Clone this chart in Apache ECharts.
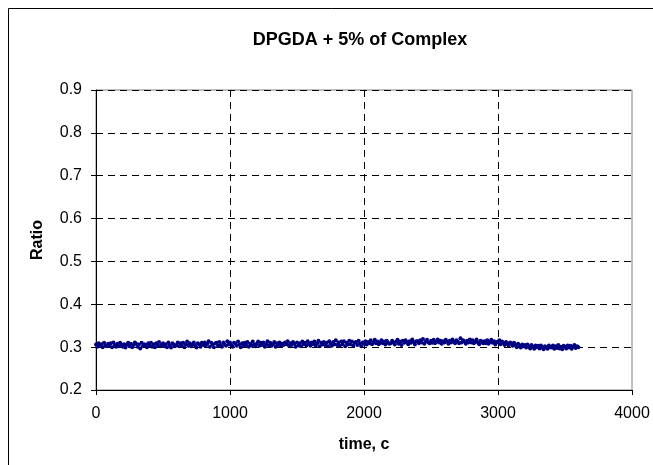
<!DOCTYPE html>
<html>
<head>
<meta charset="utf-8">
<script src="https://cdn.jsdelivr.net/npm/echarts@6/dist/echarts.min.js"></script>
<style>
html,body{margin:0;padding:0;background:#fff;}
#chart{width:653px;height:465px;}
</style>
</head>
<body>
<div id="chart"></div>
<script>
const chartTitle = "DPGDA + 5% of Complex";
const xAxisTitle = "time, c";
const yAxisTitle = "Ratio";
const xTicks = [0, 1000, 2000, 3000, 4000];
const yTicks = [0.2, 0.3, 0.4, 0.5, 0.6, 0.7, 0.8, 0.9];
const timeStart = 0;
const timeStep = 10;
const ratio = [
0.306,0.301,0.309,0.303,0.307,0.300,0.310,0.304,0.302,0.308,
0.303,0.309,0.300,0.311,0.305,0.301,0.308,0.302,0.310,0.306,
0.301,0.307,0.299,0.306,0.310,0.302,0.308,0.300,0.305,0.311,
0.308,0.301,0.306,0.297,0.310,0.302,0.307,0.305,0.300,0.309,
0.304,0.310,0.301,0.307,0.300,0.309,0.305,0.312,0.302,0.307,
0.309,0.302,0.307,0.300,0.311,0.304,0.299,0.309,0.306,0.302,
0.305,0.311,0.302,0.309,0.304,0.310,0.300,0.307,0.313,0.303,
0.309,0.302,0.306,0.311,0.304,0.299,0.309,0.306,0.301,0.310,
0.305,0.311,0.303,0.308,0.314,0.301,0.310,0.306,0.300,0.309,
0.310,0.303,0.312,0.305,0.301,0.311,0.307,0.303,0.314,0.306,
0.311,0.305,0.301,0.310,0.308,0.303,0.313,0.306,0.300,0.309,
0.303,0.310,0.305,0.312,0.301,0.308,0.304,0.313,0.306,0.302,
0.308,0.313,0.303,0.310,0.305,0.311,0.301,0.307,0.314,0.304,
0.310,0.303,0.307,0.312,0.301,0.309,0.305,0.311,0.303,0.308,
0.305,0.311,0.307,0.314,0.303,0.309,0.305,0.312,0.308,0.301,
0.311,0.304,0.309,0.302,0.313,0.307,0.310,0.304,0.314,0.308,
0.303,0.311,0.307,0.313,0.304,0.309,0.315,0.302,0.310,0.306,
0.312,0.305,0.310,0.302,0.314,0.308,0.303,0.312,0.307,0.316,
0.305,0.311,0.303,0.313,0.307,0.314,0.302,0.310,0.306,0.315,
0.307,0.313,0.303,0.310,0.312,0.305,0.315,0.308,0.302,0.311,
0.308,0.314,0.306,0.312,0.309,0.316,0.307,0.311,0.317,0.309,
0.313,0.307,0.311,0.316,0.309,0.313,0.306,0.315,0.310,0.308,
0.309,0.315,0.311,0.306,0.313,0.317,0.308,0.313,0.305,0.315,
0.310,0.316,0.312,0.307,0.314,0.310,0.318,0.312,0.306,0.314,
0.314,0.309,0.316,0.311,0.319,0.308,0.313,0.317,0.311,0.309,
0.315,0.310,0.317,0.309,0.313,0.318,0.311,0.315,0.308,0.314,
0.311,0.317,0.313,0.308,0.315,0.311,0.318,0.313,0.309,0.316,
0.313,0.309,0.321,0.311,0.316,0.313,0.308,0.315,0.311,0.318,
0.311,0.316,0.309,0.313,0.318,0.311,0.307,0.315,0.313,0.309,
0.314,0.309,0.316,0.308,0.312,0.317,0.310,0.314,0.306,0.312,
0.312,0.316,0.307,0.313,0.310,0.305,0.312,0.308,0.304,0.311,
0.309,0.303,0.310,0.305,0.300,0.308,0.304,0.299,0.306,0.302,
0.305,0.299,0.306,0.302,0.297,0.305,0.301,0.296,0.304,0.300,
0.303,0.297,0.304,0.299,0.295,0.302,0.299,0.296,0.304,0.300,
0.299,0.304,0.296,0.302,0.298,0.305,0.297,0.301,0.295,0.303,
0.301,0.297,0.304,0.299,0.303,0.296,0.301,0.305,0.298,0.302,
0.300
];

const points = ratio.map((v, i) => [timeStart + i * timeStep, v]);
const font = "'Liberation Sans', Arial, sans-serif";

const chart = echarts.init(document.getElementById('chart'), null, {renderer: 'canvas'});
chart.setOption({
  backgroundColor: '#ffffff',
  animation: false,
  graphic: [
    {type: 'rect', shape: {x: 8.5, y: 8.5, width: 720, height: 520},
     style: {fill: 'none', stroke: '#000000', lineWidth: 1}, z: -10, silent: true},
    {type: 'text', x: 360, y: 40,
     style: {text: chartTitle, fill: '#000', font: "bold 18px " + font, textAlign: 'center', textVerticalAlign: 'middle'}}
  ],
  grid: {left: 96, top: 90, width: 536, height: 300, show: true, borderColor: '#808080', borderWidth: 1, backgroundColor: '#ffffff'},
  xAxis: {
    type: 'value', min: xTicks[0], max: xTicks[xTicks.length - 1], interval: 1000,
    name: xAxisTitle, nameLocation: 'middle', nameGap: 47,
    nameTextStyle: {fontFamily: font, fontSize: 16, fontWeight: 'bold', color: '#000'},
    axisLine: {show: true, lineStyle: {color: '#000', width: 1}},
    axisTick: {show: true, inside: false, length: 5, lineStyle: {color: '#000'}},
    axisLabel: {margin: 16, fontFamily: font, fontSize: 16, color: '#000', formatter: v => String(v)},
    splitLine: {show: true, showMinLine: false, showMaxLine: false, lineStyle: {color: '#000', type: [7, 5], width: 1}}
  },
  yAxis: {
    type: 'value', min: yTicks[0], max: yTicks[yTicks.length - 1], interval: 0.1,
    name: yAxisTitle, nameLocation: 'middle', nameGap: 50, nameRotate: 90,
    nameTextStyle: {fontFamily: font, fontSize: 16, fontWeight: 'bold', color: '#000'},
    axisLine: {show: true, lineStyle: {color: '#000', width: 1}},
    axisTick: {show: true, inside: false, length: 5, lineStyle: {color: '#000'}},
    axisLabel: {margin: 14, fontFamily: font, fontSize: 16, color: '#000', formatter: v => v.toFixed(1)},
    splitLine: {show: true, showMinLine: false, lineStyle: {color: '#000', type: [7, 5], width: 1}}
  },
  series: [{
    type: 'scatter', data: points, symbol: 'circle', symbolSize: 4,
    itemStyle: {color: '#000080', opacity: 1}, z: 3
  }]
});
</script>
</body>
</html>
